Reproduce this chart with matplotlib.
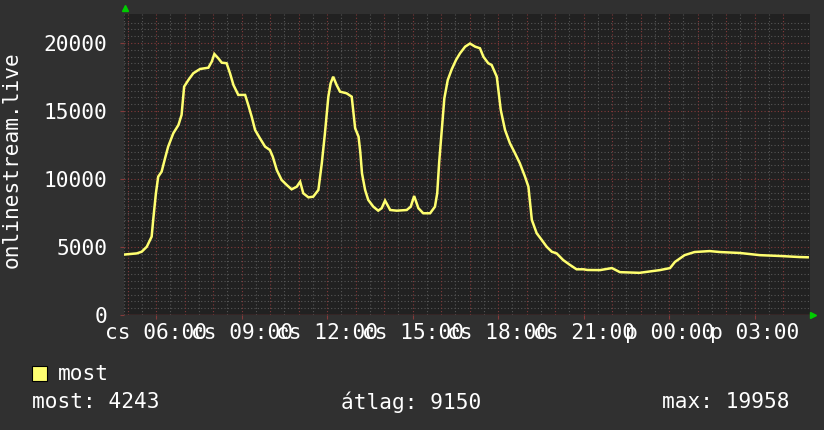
import matplotlib
matplotlib.use("Agg")
import matplotlib.pyplot as plt
import matplotlib.transforms as mtransforms
from matplotlib.patches import Rectangle

plt.rcParams["font.family"] = ["DejaVu Sans Mono", "DejaVu Sans"]

BG     = "#303030"
CANVAS = "#212121"
LINE   = "#ffff70"
MINOR  = "#565656"
MAJOR  = "#843a3a"
ARROW  = "#00cc00"
TEXT   = "#ffffff"
FS     = 15.2

# hours since Thursday 00:00, viewers
hours = [4.91, 5.32, 5.49, 5.67, 5.84, 5.90, 5.99, 6.07, 6.19, 6.31, 6.42, 6.60,
         6.78, 6.89, 6.98, 7.13, 7.30, 7.54, 7.83, 7.95, 8.04, 8.18, 8.30, 8.47,
         8.59, 8.71, 8.88, 9.12, 9.23, 9.35, 9.47, 9.64, 9.82, 9.99, 10.09, 10.23,
         10.40, 10.58, 10.75, 10.93, 11.05, 11.16, 11.34, 11.51, 11.69, 11.81, 11.92,
         12.04, 12.12, 12.21, 12.33, 12.45, 12.68, 12.86, 12.98, 13.10, 13.16, 13.22,
         13.33, 13.44, 13.62, 13.79, 13.91, 14.03, 14.21, 14.44, 14.79, 14.93, 15.05,
         15.20, 15.37, 15.61, 15.78, 15.86, 15.93, 16.02, 16.11, 16.23, 16.37, 16.52,
         16.66, 16.84, 17.01, 17.19, 17.36, 17.48, 17.65, 17.77, 17.95, 18.09, 18.24,
         18.41, 18.59, 18.76, 18.94, 19.06, 19.18, 19.35, 19.53, 19.70, 19.88, 20.05,
         20.28, 20.52, 20.75, 20.99, 21.13, 21.57, 21.99, 22.27, 22.96, 23.67, 24.03,
         24.20, 24.54, 24.89, 25.42, 25.77, 26.48, 27.18, 27.88, 28.58, 28.86]
viewers = [4450, 4530, 4650, 5020, 5760, 7110, 8950, 10170, 10540, 11520, 12380, 13360,
           13970, 14710, 16790, 17280, 17770, 18090, 18180, 18630, 19190, 18870, 18550, 18510,
           17770, 16910, 16180, 16180, 15440, 14580, 13600, 12990, 12380, 12130, 11640, 10660,
           9930, 9560, 9240, 9430, 9800, 8950, 8650, 8700, 9190, 11150, 13360,
           16050, 17030, 17520, 16910, 16420, 16300, 16050, 13730, 13110, 12000, 10420,
           9190, 8460, 7960, 7670, 7850, 8410, 7720, 7670, 7720, 7960, 8750,
           7850, 7480, 7480, 7960, 8950, 11270, 13600, 15930, 17280, 18070, 18750,
           19240, 19730, 19958, 19730, 19610, 18990, 18510, 18380, 17520, 15070, 13600,
           12630, 11890, 11150, 10170, 9430, 6990, 6010, 5510, 5020, 4650, 4530,
           4040, 3680, 3360, 3360, 3310, 3300, 3450, 3150, 3100, 3300, 3450,
           3900, 4400, 4630, 4700, 4630, 4560, 4400, 4340, 4260, 4243]

x_ticks = [6, 9, 12, 15, 18, 21, 24, 27]
x_labels = ["cs 06:00", "cs 09:00", "cs 12:00", "cs 15:00",
            "cs 18:00", "cs 21:00", "p 00:00", "p 03:00"]
y_ticks = [0, 5000, 10000, 15000, 20000]

fig = plt.figure(figsize=(8.24, 4.30), dpi=100, facecolor=BG)
ax = fig.add_axes([124 / 824, 1 - 315 / 430, 686 / 824, 301 / 430])
ax.set_facecolor(CANVAS)
for sp in ax.spines.values():
    sp.set_visible(False)

ax.set_xlim(4.87, 28.94)
ax.set_ylim(0, 22130)

# grid: half-hour / 500 minor, hour / 5000 major
t = 5.0
while t < 29:
    ax.axvline(t, color=MAJOR, lw=0.8, ls=(0, (1, 2)), zorder=1)
    ax.axvline(t - 0.5, color=MINOR, lw=0.8, ls=(0, (1, 2)), zorder=0.5)
    t += 1
for v in range(500, 22000, 500):
    if v % 5000 == 0:
        ax.axhline(v, color=MAJOR, lw=0.8, ls=(0, (1, 2)), zorder=1)
    else:
        ax.axhline(v, color=MINOR, lw=0.8, ls=(0, (1, 2)), zorder=0.5)
ax.axhline(0, color=MAJOR, lw=1.0, zorder=1)
ax.axvline(4.87, color=MINOR, lw=0.8, ls=(0, (1, 2)), zorder=0.5)

ax.plot(hours, viewers, color=LINE, lw=1.8, zorder=3, solid_joinstyle="miter")

ax.set_xticks(x_ticks)
ax.set_xticklabels(x_labels)
ax.set_yticks(y_ticks)
ax.set_yticklabels([str(v) for v in y_ticks])
ax.tick_params(axis="x", colors=MAJOR, labelcolor=TEXT, labelsize=FS,
               length=3, width=0.8, pad=3)
ax.tick_params(axis="y", colors=MAJOR, labelcolor=TEXT, labelsize=FS,
               length=3, width=0.8, pad=9)

fig.text(12 / 824, 1 - 160 / 430, "onlinestream.live", rotation=90,
         color=TEXT, fontsize=FS, ha="center", va="center")

# rrdtool-style axis arrows
up = mtransforms.offset_copy(ax.transAxes, fig=fig, x=0.5, y=4, units="points")
ax.plot([0], [1], marker="^", ms=5, color=ARROW, transform=up, clip_on=False)
right = mtransforms.offset_copy(ax.transAxes, fig=fig, x=2.5, y=0, units="points")
ax.plot([1], [0], marker=">", ms=5, color=ARROW, transform=right, clip_on=False)

# legend
fig.patches.append(Rectangle((32 / 824, 1 - 381 / 430), 15 / 824, 15 / 430,
                             transform=fig.transFigure, facecolor=LINE,
                             edgecolor="#000000", lw=0.8))
fig.text(58 / 824, 1 - 374 / 430, "most", color=TEXT, fontsize=FS,
         ha="left", va="center")
fig.text(32 / 824, 1 - 402 / 430, "most: 4243", color=TEXT, fontsize=FS,
         ha="left", va="center")
fig.text(341 / 824, 1 - 402 / 430, "átlag: 9150", color=TEXT, fontsize=FS,
         ha="left", va="center")
fig.text(662 / 824, 1 - 402 / 430, "max: 19958", color=TEXT, fontsize=FS,
         ha="left", va="center")

plt.savefig("out.png", dpi=100, facecolor=BG)
